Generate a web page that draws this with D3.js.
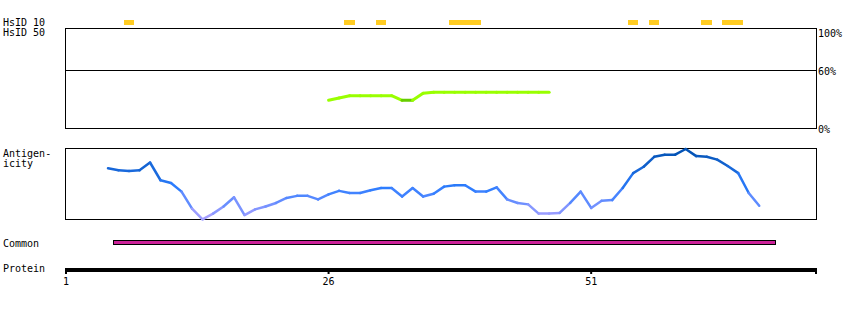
<!DOCTYPE html>
<html>
<head>
<meta charset="utf-8">
<script src="https://cdn.jsdelivr.net/npm/d3@7"></script>
<style>
body { margin: 0; background: #fff; }
text { font-family: "DejaVu Sans Mono", monospace; font-size: 10px; fill: #000; }
</style>
</head>
<body>
<div id="chart"></div>
<script>
const protein_len = 72.5;
const tick_vals = [1, 26, 51];

// HsID 10 segments (residue start, end)
const hsid10 = [[7, 7], [28, 28], [31, 31], [38, 40], [55, 55], [57, 57], [62, 62], [64, 65]];

// HsID 50 identity %, residues 26..47
const hsid50_start = 26;
const hsid50 = [28.2, 30.5, 32.8, 32.8, 32.8, 32.8, 32.8, 28.2, 28.2, 35.2, 36.2, 36.2,
    36.2, 36.2, 36.2, 36.2, 36.2, 36.2, 36.2, 36.2, 36.2, 36.2];

// antigenicity, residues 5..67
const anti_start = 5;
const antigenicity = [0.73, 0.70, 0.69, 0.70, 0.81, 0.56, 0.52, 0.40, 0.16, 0.01,
    0.09, 0.19, 0.32, 0.07, 0.15, 0.19, 0.24, 0.31, 0.34, 0.34,
    0.29, 0.36, 0.41, 0.38, 0.38, 0.42, 0.45, 0.45, 0.33, 0.45,
    0.33, 0.37, 0.47, 0.49, 0.49, 0.40, 0.40, 0.46, 0.29, 0.24,
    0.22, 0.09, 0.09, 0.10, 0.24, 0.40, 0.17, 0.27, 0.28, 0.45,
    0.66, 0.75, 0.89, 0.92, 0.92, 1.00, 0.90, 0.89, 0.85, 0.76,
    0.66, 0.38, 0.20];

const common = [6, 68];
const pct_ticks = [100, 60, 0];

var svg = d3.select("#chart").append("svg")
    .attr("width", 850)
    .attr("height", 310);

var x = d3.scaleLinear().domain([1, protein_len]).range([66, 817]);
var yPct = d3.scaleLinear().domain([0, 100]).range([128.5, 28.5]);
var yAnti = d3.scaleLinear().domain([0, 1]).range([220, 149]);

//left labels
var labels = [["HsID 10", 22.5], ["HsID 50", 32.5], ["Antigen-", 153], ["icity", 163], ["Common", 243.5], ["Protein", 268.5]];
svg.selectAll("text.lbl")
    .data(labels)
    .enter()
    .append("text")
    .attr("class", "lbl")
    .attr("x", 3)
    .attr("y", (d) => d[1] + 3.6)
    .text((d) => d[0]);

//HsID 10 bars
svg.selectAll("rect.h10")
    .data(hsid10)
    .enter()
    .append("rect")
    .attr("x", (d) => Math.round(x(d[0] - 0.5)))
    .attr("y", 20)
    .attr("width", (d) => Math.round(x(d[1] + 0.5)) - Math.round(x(d[0] - 0.5)))
    .attr("height", 5)
    .attr("fill", "#ffcc22");

//identity panel
svg.append("rect")
    .attr("x", 65.5).attr("y", yPct(100))
    .attr("width", 816.5 - 65.5).attr("height", yPct(0) - yPct(100))
    .attr("fill", "none").attr("stroke", "#000");
svg.append("line")
    .attr("x1", 65.5).attr("x2", 816.5)
    .attr("y1", Math.round(yPct(60)) + 1.5).attr("y2", Math.round(yPct(60)) + 1.5)
    .attr("stroke", "#000");
svg.selectAll("text.pct")
    .data(pct_ticks)
    .enter()
    .append("text")
    .attr("x", 818)
    .attr("y", (d) => d == 60 ? yPct(d) + 6 : (d == 100 ? yPct(d) + 8 : yPct(d) + 4))
    .text((d) => d + "%");

//HsID 50 line, segment colors by value
var h50pts = hsid50.map((v, i) => [hsid50_start + i, v]);
svg.selectAll("line.h50")
    .data(d3.pairs(h50pts))
    .enter()
    .append("line")
    .attr("x1", (d) => x(d[0][0])).attr("y1", (d) => yPct(d[0][1]))
    .attr("x2", (d) => x(d[1][0])).attr("y2", (d) => yPct(d[1][1]))
    .attr("stroke", (d) => (d[0][1] + d[1][1]) / 2 < 29 ? "#66cc00" : "#99ff00")
    .attr("stroke-width", 3)
    .attr("stroke-linecap", "round");

//antigenicity panel
svg.append("rect")
    .attr("x", 65.5).attr("y", 148.5)
    .attr("width", 816.5 - 65.5).attr("height", 71)
    .attr("fill", "none").attr("stroke", "#000");

var antiColor = d3.scaleLinear()
    .domain([0, 0.45, 1])
    .range(["#b4a4ff", "#2d7dff", "#0050b0"]);
var antiPts = antigenicity.map((v, i) => [anti_start + i, v]);
svg.selectAll("line.anti")
    .data(d3.pairs(antiPts))
    .enter()
    .append("line")
    .attr("x1", (d) => x(d[0][0])).attr("y1", (d) => yAnti(d[0][1]))
    .attr("x2", (d) => x(d[1][0])).attr("y2", (d) => yAnti(d[1][1]))
    .attr("stroke", (d) => antiColor((d[0][1] + d[1][1]) / 2))
    .attr("stroke-width", 2.5)
    .attr("stroke-linecap", "round");

//common bar
svg.append("rect")
    .attr("x", Math.round(x(common[0] - 0.5)) + 0.5)
    .attr("y", 240.5)
    .attr("width", Math.round(x(common[1] + 0.5)) - Math.round(x(common[0] - 0.5)))
    .attr("height", 4)
    .attr("fill", "#cc2299")
    .attr("stroke", "#000");

//protein axis
svg.append("rect")
    .attr("x", x(1) - 1).attr("y", 268)
    .attr("width", x(protein_len) - x(1) + 1).attr("height", 4)
    .attr("fill", "#000");
svg.selectAll("rect.tick")
    .data(tick_vals.concat([protein_len]))
    .enter()
    .append("rect")
    .attr("x", (d) => d == protein_len ? x(d) - 2 : x(d) - 1)
    .attr("y", 268)
    .attr("width", 2)
    .attr("height", 6)
    .attr("fill", "#000");
svg.selectAll("text.tick")
    .data(tick_vals)
    .enter()
    .append("text")
    .attr("x", (d) => x(d))
    .attr("y", 284.5)
    .attr("text-anchor", "middle")
    .text((d) => d);
</script>
</body>
</html>
